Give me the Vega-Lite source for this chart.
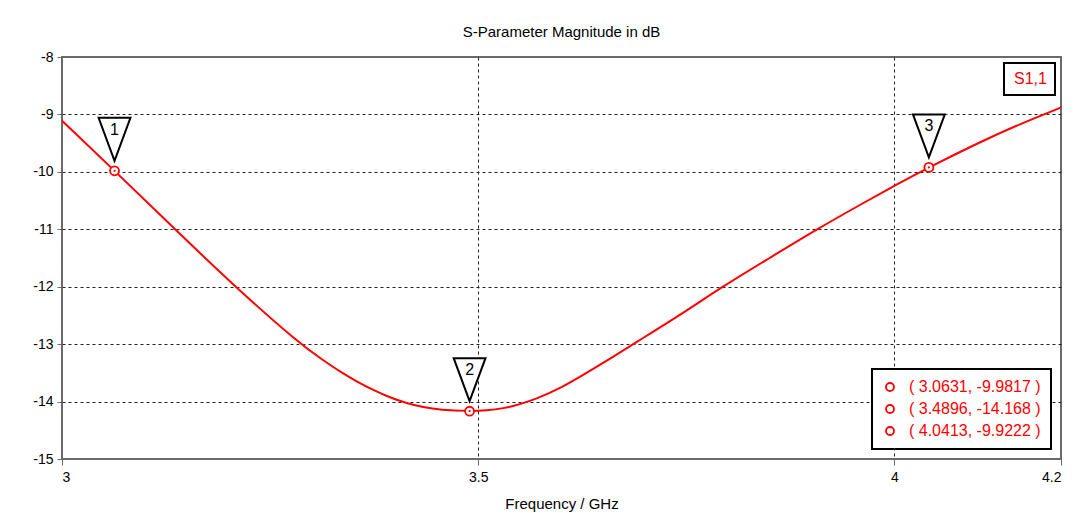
{
  "$schema": "https://vega.github.io/schema/vega-lite/v6.json",
  "width": 999,
  "height": 402,
  "autosize": {"type": "none"},
  "padding": {"left": 62, "top": 57, "right": 27, "bottom": 54},
  "background": "white",
  "title": {
    "text": "S-Parameter Magnitude in dB",
    "font": "Liberation Sans",
    "fontSize": 15,
    "fontWeight": "normal",
    "color": "black",
    "offset": 10
  },
  "config": {
    "view": {"stroke": "#6a6a6a", "strokeWidth": 2},
    "legend": {"strokeWidth": 2},
    "axis": {
      "labelFont": "Liberation Sans",
      "labelFontSize": 14,
      "labelColor": "black",
      "titleFont": "Liberation Sans",
      "titleFontSize": 15,
      "titleFontWeight": "normal",
      "titleColor": "black",
      "domain": false,
      "tickColor": "#6a6a6a",
      "gridColor": "#222222",
      "gridDash": [3, 3],
      "gridWidth": 1
    }
  },
  "datasets": {
    "curve": [
      {"series": "S1,1", "frequency": 3.0, "s11": -9.11},
      {"series": "S1,1", "frequency": 3.0631, "s11": -9.98},
      {"series": "S1,1", "frequency": 3.1357, "s11": -11.0},
      {"series": "S1,1", "frequency": 3.2078, "s11": -12.0},
      {"series": "S1,1", "frequency": 3.2859, "s11": -13.0},
      {"series": "S1,1", "frequency": 3.3139, "s11": -13.28},
      {"series": "S1,1", "frequency": 3.3339, "s11": -13.48},
      {"series": "S1,1", "frequency": 3.354, "s11": -13.65},
      {"series": "S1,1", "frequency": 3.3739, "s11": -13.8},
      {"series": "S1,1", "frequency": 3.394, "s11": -13.93},
      {"series": "S1,1", "frequency": 3.4141, "s11": -14.03},
      {"series": "S1,1", "frequency": 3.434, "s11": -14.1},
      {"series": "S1,1", "frequency": 3.4541, "s11": -14.145},
      {"series": "S1,1", "frequency": 3.4896, "s11": -14.168},
      {"series": "S1,1", "frequency": 3.51, "s11": -14.155},
      {"series": "S1,1", "frequency": 3.53, "s11": -14.12},
      {"series": "S1,1", "frequency": 3.55, "s11": -14.05},
      {"series": "S1,1", "frequency": 3.57, "s11": -13.95},
      {"series": "S1,1", "frequency": 3.6, "s11": -13.76},
      {"series": "S1,1", "frequency": 3.63, "s11": -13.5},
      {"series": "S1,1", "frequency": 3.66, "s11": -13.24},
      {"series": "S1,1", "frequency": 3.686, "s11": -13.0},
      {"series": "S1,1", "frequency": 3.742, "s11": -12.5},
      {"series": "S1,1", "frequency": 3.793, "s11": -12.0},
      {"series": "S1,1", "frequency": 3.85, "s11": -11.5},
      {"series": "S1,1", "frequency": 3.9065, "s11": -11.0},
      {"series": "S1,1", "frequency": 3.9666, "s11": -10.51},
      {"series": "S1,1", "frequency": 4.0, "s11": -10.24},
      {"series": "S1,1", "frequency": 4.0413, "s11": -9.922},
      {"series": "S1,1", "frequency": 4.1, "s11": -9.5},
      {"series": "S1,1", "frequency": 4.15, "s11": -9.17},
      {"series": "S1,1", "frequency": 4.2, "s11": -8.88}
    ],
    "markers": [
      {"marker": "1", "frequency": 3.0631, "s11": -9.9817, "readout": "( 3.0631, -9.9817 )"},
      {"marker": "2", "frequency": 3.4896, "s11": -14.168, "readout": "( 3.4896, -14.168 )"},
      {"marker": "3", "frequency": 4.0413, "s11": -9.9222, "readout": "( 4.0413, -9.9222 )"}
    ]
  },
  "encoding": {
    "x": {
      "field": "frequency",
      "type": "quantitative",
      "title": "Frequency / GHz",
      "scale": {"domain": [3, 4.2], "nice": false, "zero": false},
      "axis": {
        "values": [3, 3.5, 4, 4.2],
        "format": "~g",
        "tickSize": 6,
        "labelPadding": 5,
        "titlePadding": 12,
        "gridOpacity": {"condition": {"test": "datum.value <= 3 || datum.value >= 4.2", "value": 0}, "value": 1}
      }
    },
    "y": {
      "field": "s11",
      "type": "quantitative",
      "title": null,
      "scale": {"domain": [-15, -8], "nice": false, "zero": false},
      "axis": {
        "values": [-15, -14, -13, -12, -11, -10, -9, -8],
        "labelExpr": "'' + datum.value",
        "tickSize": 5,
        "labelPadding": 4,
        "gridOpacity": {"condition": {"test": "datum.value <= -15 || datum.value >= -8", "value": 0}, "value": 1}
      }
    }
  },
  "layer": [
    {
      "data": {"name": "curve"},
      "mark": {"type": "line", "strokeWidth": 2, "interpolate": "basis", "clip": true},
      "encoding": {
        "color": {
          "field": "series",
          "type": "nominal",
          "scale": {"range": ["#ff0000"]},
          "legend": {
            "title": null,
            "orient": "top-right",
            "offset": 6,
            "strokeColor": "black",
            "fillColor": "white",
            "padding": 8,
            "labelColor": "#ff0000",
            "labelFont": "Liberation Sans",
            "labelFontSize": 16,
            "symbolSize": 0,
            "symbolStrokeWidth": 0,
            "labelOffset": -14
          }
        }
      }
    },
    {
      "data": {"name": "markers"},
      "mark": {
        "type": "point",
        "shape": "M-0.74,-1L0.74,-1L0,1Z",
        "size": 1849,
        "filled": true,
        "fill": "white",
        "fillOpacity": 1,
        "stroke": "black",
        "strokeWidth": 2,
        "opacity": 1,
        "yOffset": -31.5
      }
    },
    {
      "data": {"name": "markers"},
      "mark": {
        "type": "text",
        "font": "Liberation Sans",
        "fontSize": 16,
        "color": "black",
        "baseline": "middle",
        "dy": -41
      },
      "encoding": {"text": {"field": "marker", "type": "nominal"}}
    },
    {
      "data": {"name": "markers"},
      "mark": {
        "type": "point",
        "shape": "circle",
        "size": 80,
        "filled": false,
        "strokeWidth": 1.8,
        "fill": "white",
        "opacity": 1
      },
      "encoding": {
        "stroke": {
          "field": "readout",
          "type": "nominal",
          "scale": {"range": ["#ff0000"]},
          "legend": {
            "title": null,
            "orient": "bottom-right",
            "offset": 10,
            "strokeColor": "black",
            "fillColor": "white",
            "padding": 10,
            "rowPadding": 6,
            "labelColor": "#ff0000",
            "labelFont": "Liberation Sans",
            "labelFontSize": 16,
            "labelOffset": 11,
            "symbolType": "circle",
            "symbolSize": 64,
            "symbolFillColor": "white",
            "symbolStrokeWidth": 1.8,
            "symbolOpacity": 1
          }
        }
      }
    },
    {
      "data": {"name": "markers"},
      "mark": {"type": "point", "shape": "circle", "size": 5, "filled": true, "color": "#ff0000", "opacity": 1}
    }
  ]
}
